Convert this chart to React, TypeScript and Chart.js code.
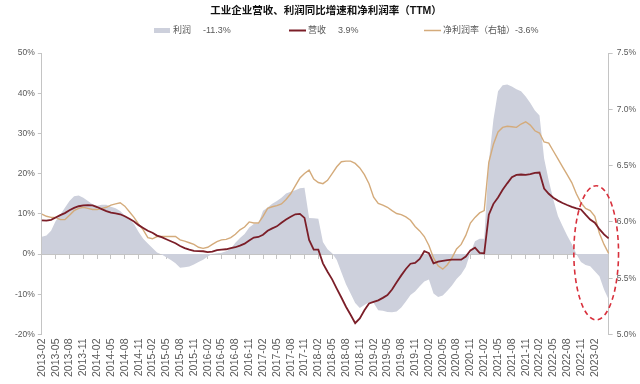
import React, { useEffect, useRef } from 'react';
import { Chart, registerables } from 'chart.js';

Chart.register(...registerables);

// ---------- data ----------
function buildMonths(startYear: number, startMonth: number, count: number): string[] {
  const out: string[] = [];
  let y = startYear;
  let m = startMonth;
  for (let i = 0; i < count; i++) {
    out.push(`${y}-${m < 10 ? '0' + m : m}`);
    m++;
    if (m > 12) { m = 1; y++; }
  }
  return out;
}
const MONTHS: string[] = buildMonths(2013, 2, 124);
const LAST_TICK_LABEL = '2023-02';

const PROFIT: number[] = [
  4.3, 4.6, 5.8, 8.2, 9.8, 11.5, 13.2, 14.4, 14.6, 14.0,
  13.2, 12.4, 12.0, 12.3, 12.3, 11.8, 11.4, 10.7, 9.6, 8.7,
  7.5, 5.5, 3.8, 2.6, 1.5, 0.4, -0.1, -0.8, -1.5, -2.3,
  -3.4, -3.3, -3.1, -2.6, -2.0, -1.4, -0.6, 0.0, 0.2, 0.3,
  0.7, 1.3, 2.8, 4.0, 5.0, 6.6, 7.5, 7.6, 10.8, 11.6,
  12.5, 13.2, 14.0, 15.1, 15.5, 15.9, 16.4, 16.5, 9.0, 8.9,
  8.8, 3.0, 1.2, 0.2, -1.5, -4.5, -7.5, -9.8, -12.2, -13.4,
  -12.7, -12.0, -12.2, -14.0, -14.1, -14.4, -14.5, -14.3, -13.3, -11.8,
  -10.2, -9.3, -8.0, -6.8, -6.3, -9.8, -10.7, -10.3, -9.1, -7.8,
  -6.2, -5.0, -3.2, 0.3, 3.2, 3.8, 3.8, 23.0, 33.5, 40.5,
  42.0, 42.2, 41.7, 41.0, 40.5, 39.2, 37.6, 35.7, 34.5, 23.8,
  18.3, 13.6, 9.5, 7.0, 4.6, 2.5, 0.0, -2.0, -2.7, -3.0,
  -4.3, -5.5, -8.8, -11.3,
];

const REVENUE: number[] = [
  8.4, 8.3, 8.5, 9.1, 9.7, 10.2, 10.9, 11.5, 11.9, 12.1,
  12.2, 12.1, 11.7, 11.2, 10.7, 10.3, 10.1, 9.9, 9.4, 8.8,
  8.1, 7.2, 6.5, 5.8, 5.3, 4.6, 4.2, 3.7, 3.2, 2.7,
  2.0, 1.5, 1.1, 0.8, 0.75, 0.7, 0.5, 0.6, 1.0, 1.1,
  1.2, 1.5, 1.7, 2.1, 2.6, 3.4, 4.1, 4.25, 4.8, 5.8,
  6.4, 6.9, 7.8, 8.6, 9.3, 9.9, 10.0, 9.0, 3.5, 1.1,
  1.1, -2.3, -4.4, -6.3, -8.6, -10.8, -13.1, -15.1, -17.2, -16.0,
  -14.0, -12.3, -11.9, -11.5, -10.9, -10.2, -8.8, -7.0, -5.3, -3.7,
  -2.4, -2.2, -1.2, 0.7, 0.2, -2.3, -1.9, -1.7, -1.5, -1.4,
  -1.4, -1.4, -0.6, 0.9, 1.6, 0.3, 0.2, 9.8, 12.5, 14.1,
  16.0, 17.6, 19.1, 19.7, 19.8, 19.7, 19.9, 20.2, 20.3, 16.3,
  15.0, 14.0, 13.3, 12.7, 12.2, 11.75, 11.35, 11.1, 9.8, 8.6,
  7.8, 6.2, 4.9, 3.9,
];

const MARGIN: number[] = [
  6.07, 6.05, 6.04, 6.04, 6.02, 6.02, 6.06, 6.10, 6.12, 6.13,
  6.12, 6.11, 6.11, 6.12, 6.13, 6.15, 6.16, 6.17, 6.14, 6.09,
  6.04, 5.98, 5.93, 5.86, 5.85, 5.87, 5.87, 5.87, 5.87, 5.87,
  5.84, 5.83, 5.815, 5.80, 5.775, 5.765, 5.775, 5.80, 5.825, 5.84,
  5.845, 5.86, 5.89, 5.93, 5.955, 6.00, 5.99, 5.99, 6.05, 6.12,
  6.135, 6.145, 6.16, 6.20, 6.25, 6.32, 6.39, 6.43, 6.46, 6.38,
  6.35, 6.34, 6.37, 6.43, 6.49, 6.535, 6.54, 6.54, 6.52, 6.48,
  6.42, 6.34, 6.22, 6.165, 6.15, 6.13, 6.10, 6.075, 6.065, 6.045,
  6.015, 5.96, 5.92, 5.87, 5.79, 5.68, 5.61, 5.58, 5.62, 5.68,
  5.76, 5.80, 5.88, 5.99, 6.04, 6.08, 6.10, 6.53, 6.69, 6.80,
  6.84, 6.85, 6.845, 6.84, 6.87, 6.89, 6.86, 6.81, 6.79, 6.71,
  6.70, 6.63, 6.56, 6.49, 6.42, 6.35, 6.25, 6.17, 6.12, 6.10,
  6.05, 5.90, 5.80, 5.72,
];

const TITLE = '工业企业营收、利润同比增速和净利润率（TTM）';
const SERIES_NAMES = ['利润', '营收', '净利润率（右轴）'];
const LEGEND_VALUES = ['-11.3%', '3.9%', '-3.6%'];

// highlighted region (in data units: category index / left-axis %)
const HIGHLIGHT_CENTER_INDEX = 120.3;
const HIGHLIGHT_HALF_MONTHS = 4.85;
const HIGHLIGHT_TOP = 17.0;
const HIGHLIGHT_BOTTOM = -16.4;

// ---------- styles ----------
const FONT = '"Liberation Sans", Arial, "Noto Sans CJK SC", sans-serif';
const AXIS_COLOR = '#c4c4c4';
const TEXT_COLOR = '#595959';
const PROFIT_COLOR = '#cdd0dc';
const REVENUE_COLOR = '#7b1e28';
const MARGIN_COLOR = '#d4ab7b';
const HIGHLIGHT_COLOR = '#d8303c';

const lastTickIndex = MONTHS.indexOf(LAST_TICK_LABEL);

const legendPlugin = {
  id: 'customLegend',
  afterDraw(chart: any) {
    const ctx = chart.ctx;
    ctx.save();
    const y = 30.5;
    const starts = [154, 289, 424];
    ctx.font = `9px ${FONT}`;
    ctx.textBaseline = 'middle';
    ctx.textAlign = 'left';
    ctx.fillStyle = PROFIT_COLOR;
    ctx.fillRect(starts[0], y - 2.5, 16, 5);
    ctx.strokeStyle = REVENUE_COLOR;
    ctx.lineWidth = 2;
    ctx.beginPath(); ctx.moveTo(starts[1], y); ctx.lineTo(starts[1] + 17, y); ctx.stroke();
    ctx.strokeStyle = MARGIN_COLOR;
    ctx.lineWidth = 1.5;
    ctx.beginPath(); ctx.moveTo(starts[2], y); ctx.lineTo(starts[2] + 17, y); ctx.stroke();
    ctx.fillStyle = TEXT_COLOR;
    ctx.fillText(SERIES_NAMES[0], starts[0] + 19, y);
    ctx.fillText(LEGEND_VALUES[0], starts[0] + 49, y);
    ctx.fillText(SERIES_NAMES[1], starts[1] + 19, y);
    ctx.fillText(LEGEND_VALUES[1], starts[1] + 49, y);
    ctx.fillText(SERIES_NAMES[2] + LEGEND_VALUES[2], starts[2] + 19, y);
    ctx.restore();
  },
};

const highlightPlugin = {
  id: 'highlightEllipse',
  afterDatasetsDraw(chart: any) {
    const xs = chart.scales.x;
    const ys = chart.scales.y;
    const cx = xs.getPixelForValue(HIGHLIGHT_CENTER_INDEX);
    const rx = xs.getPixelForValue(HIGHLIGHT_CENTER_INDEX + HIGHLIGHT_HALF_MONTHS) - cx;
    const top = ys.getPixelForValue(HIGHLIGHT_TOP);
    const bottom = ys.getPixelForValue(HIGHLIGHT_BOTTOM);
    const ctx = chart.ctx;
    ctx.save();
    ctx.strokeStyle = HIGHLIGHT_COLOR;
    ctx.lineWidth = 1.6;
    ctx.setLineDash([5, 3.5]);
    ctx.beginPath();
    ctx.ellipse(cx, (top + bottom) / 2, rx, (bottom - top) / 2, 0, 0, Math.PI * 2);
    ctx.stroke();
    ctx.restore();
  },
};

export default function App() {
  const canvasRef = useRef<HTMLCanvasElement | null>(null);

  useEffect(() => {
    if (!canvasRef.current) return;
    const chart = new Chart(canvasRef.current, {
      type: 'line',
      data: {
        labels: MONTHS,
        datasets: [
          {
            label: SERIES_NAMES[1],
            data: REVENUE,
            yAxisID: 'y',
            xAxisID: 'x',
            borderColor: REVENUE_COLOR,
            borderWidth: 1.8,
            pointRadius: 0,
            tension: 0,
            fill: false,
            order: 1,
          },
          {
            label: SERIES_NAMES[2],
            data: MARGIN,
            yAxisID: 'y1',
            xAxisID: 'x',
            borderColor: MARGIN_COLOR,
            borderWidth: 1.4,
            pointRadius: 0,
            tension: 0,
            fill: false,
            order: 2,
          },
          {
            label: SERIES_NAMES[0],
            data: PROFIT,
            yAxisID: 'y',
            xAxisID: 'x',
            borderWidth: 0,
            borderColor: PROFIT_COLOR,
            backgroundColor: PROFIT_COLOR,
            pointRadius: 0,
            tension: 0,
            fill: 'origin',
            order: 3,
          },
        ],
      },
      options: {
        animation: false,
        responsive: true,
        maintainAspectRatio: false,
        layout: { padding: { left: 12, right: 0, top: 0, bottom: 3 } },
        plugins: {
          legend: { display: false },
          tooltip: { enabled: false },
          title: {
            display: true,
            text: TITLE,
            color: '#111',
            font: { family: FONT, size: 10.5, weight: 'bold' },
            padding: { top: 5, bottom: 35.5 },
          },
        },
        scales: {
          x: {
            type: 'category',
            position: { y: 0 } as any,
            z: 1,
            offset: false,
            grid: {
              drawOnChartArea: false,
              drawTicks: true,
              tickLength: 4,
              color: (c: any) => (c.index % 3 === 0 ? AXIS_COLOR : 'rgba(0,0,0,0)'),
            },
            border: { color: AXIS_COLOR, width: 1 },
            ticks: { display: false },
          },
          x2: {
            type: 'category',
            position: 'bottom',
            offset: false,
            grid: { display: false, drawTicks: false, tickLength: 0 },
            border: { display: false },
            ticks: {
              autoSkip: false,
              maxRotation: 90,
              minRotation: 90,
              padding: 4,
              color: TEXT_COLOR,
              font: { family: FONT, size: 10.5 },
              callback: (_v: any, i: number) => (i % 3 === 0 && i <= lastTickIndex ? MONTHS[i] : ''),
            },
          },
          y: {
            type: 'linear',
            position: 'left',
            min: -20,
            max: 50,
            grid: { drawOnChartArea: false, tickLength: 4, color: AXIS_COLOR },
            border: { color: AXIS_COLOR },
            ticks: {
              stepSize: 10,
              padding: 3,
              color: TEXT_COLOR,
              font: { family: FONT, size: 8.5 },
              callback: (v: any) => `${v}%`,
            },
          },
          y1: {
            type: 'linear',
            position: 'right',
            min: 5,
            max: 7.5,
            grid: { drawOnChartArea: false, tickLength: 4, color: AXIS_COLOR },
            border: { color: AXIS_COLOR },
            ticks: {
              stepSize: 0.5,
              padding: 4,
              color: TEXT_COLOR,
              font: { family: FONT, size: 8.5 },
              callback: (v: any) => `${Number(v).toFixed(1)}%`,
            },
          },
        },
      },
      plugins: [legendPlugin, highlightPlugin],
    });
    return () => chart.destroy();
  }, []);

  return (
    <div style={{ position: 'absolute', left: 0, top: 0, width: 640, height: 384, background: '#fff' }}>
      <canvas ref={canvasRef} />
    </div>
  );
}
